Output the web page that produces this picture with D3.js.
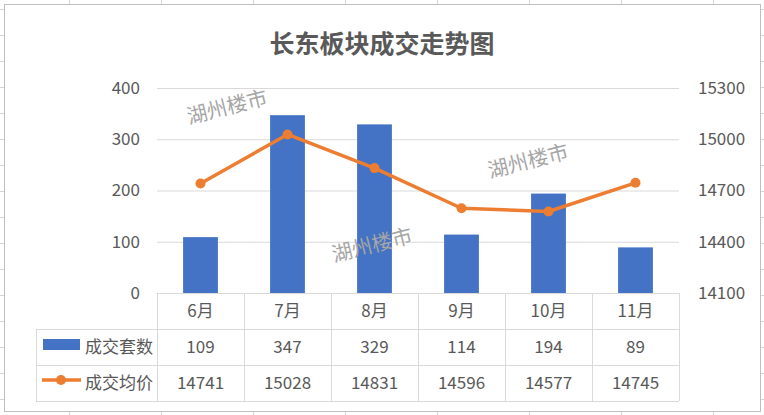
<!DOCTYPE html>
<html>
<head>
<meta charset="utf-8">
<script src="https://cdn.jsdelivr.net/npm/d3@7"></script>
<style>
  body { margin: 0; background: #fff; }
  svg text { font-family: "Noto Sans CJK SC", "Noto Sans", sans-serif; fill: #595959; }
</style>
</head>
<body>
<div id="chart"></div>
<script>
// data
var months = ["6月", "7月", "8月", "9月", "10月", "11月"];
var deals = [109, 347, 329, 114, 194, 89];
var prices = [14741, 15028, 14831, 14596, 14577, 14745];
var leftTicks = [0, 100, 200, 300, 400];
var rightTicks = [14100, 14400, 14700, 15000, 15300];
var seriesNames = ["成交套数", "成交均价"];
var watermark = "湖州楼市";

var svgWidth = 764;
var svgHeight = 415;

var plot = { left: 157, right: 679, top: 88, bottom: 293 };
var rowH = 36;

var svg = d3.select("#chart")
  .append("svg")
  .attr("width", svgWidth)
  .attr("height", svgHeight);

// spreadsheet cells behind the chart
var sheet = svg.append("g").attr("stroke", "#d4d4d4").attr("stroke-width", 1);
d3.range(69, svgWidth, 92).forEach(function(x) {
  sheet.append("line").attr("x1", x + 0.5).attr("x2", x + 0.5).attr("y1", 0).attr("y2", svgHeight);
});
d3.range(9, svgHeight, 26).forEach(function(y) {
  sheet.append("line").attr("x1", 0).attr("x2", svgWidth).attr("y1", y + 0.5).attr("y2", y + 0.5);
});

// chart box
svg.append("rect")
  .attr("x", 4.5).attr("y", 4.5)
  .attr("width", 756).attr("height", 407)
  .attr("fill", "#fff")
  .attr("stroke", "#bfbfbf");

svg.append("text")
  .attr("x", 382).attr("y", 53)
  .attr("text-anchor", "middle")
  .style("font-size", "25px")
  .style("font-weight", "bold")
  .text("长东板块成交走势图");

var x = d3.scaleBand()
  .domain(months)
  .range([plot.left, plot.right])
  .paddingInner(0.6)
  .paddingOuter(0.3);

var xCat = d3.scaleBand()
  .domain(months)
  .range([plot.left, plot.right]);

var yLeft = d3.scaleLinear()
  .domain([0, 400])
  .range([plot.bottom, plot.top]);

var yRight = d3.scaleLinear()
  .domain([14100, 15300])
  .range([plot.bottom, plot.top]);

// gridlines
var grid = svg.append("g")
  .attr("transform", `translate(${plot.left}, 0)`)
  .call(d3.axisLeft(yLeft).tickValues(leftTicks).tickSize(-(plot.right - plot.left)).tickFormat(""));
grid.select(".domain").remove();
grid.selectAll("line").attr("stroke", "#d9d9d9");

// left axis
var leftAxis = svg.append("g")
  .attr("transform", `translate(${plot.left - 17}, 0)`)
  .call(d3.axisLeft(yLeft).tickValues(leftTicks).tickSize(0));
leftAxis.select(".domain").remove();
leftAxis.selectAll("text").attr("fill", "#595959").style("font-size", "17px").attr("x", 0);

// right axis
var rightAxis = svg.append("g")
  .attr("transform", `translate(${plot.right + 19}, 0)`)
  .call(d3.axisRight(yRight).tickValues(rightTicks).tickSize(0).tickFormat(d3.format("d")));
rightAxis.select(".domain").remove();
rightAxis.selectAll("text").attr("fill", "#595959").style("font-size", "17px").attr("x", 0);

// bars
svg.append("g").selectAll("rect")
  .data(deals)
  .enter()
  .append("rect")
  .attr("x", (d, i) => x(months[i]))
  .attr("y", d => yLeft(d))
  .attr("width", x.bandwidth())
  .attr("height", d => yLeft(0) - yLeft(d))
  .attr("fill", "#4472c4");

// watermarks
var marks = [[227, 107], [372, 245], [528, 161]];
svg.append("g").selectAll("text")
  .data(marks)
  .enter()
  .append("text")
  .attr("transform", d => `translate(${d[0]}, ${d[1]}) rotate(-14)`)
  .attr("text-anchor", "middle")
  .attr("dy", "0.35em")
  .style("font-size", "20.5px")
  .style("fill", "#a6a6a6")
  .text(watermark);

// price line
var line = d3.line()
  .x((d, i) => xCat(months[i]) + xCat.bandwidth() / 2)
  .y(d => yRight(d));

svg.append("path")
  .datum(prices)
  .attr("d", line)
  .attr("fill", "none")
  .attr("stroke", "#ed7d31")
  .attr("stroke-width", 3.5)
  .attr("stroke-linejoin", "round");

svg.append("g").selectAll("circle")
  .data(prices)
  .enter()
  .append("circle")
  .attr("cx", (d, i) => xCat(months[i]) + xCat.bandwidth() / 2)
  .attr("cy", d => yRight(d))
  .attr("r", 5)
  .attr("fill", "#ed7d31");

// data table
var table = svg.append("g").attr("stroke", "#d9d9d9").attr("stroke-width", 1);
var legendLeft = 36;
[0, 1, 2, 3].forEach(function(r) {
  var yy = plot.bottom + r * rowH + 0.5;
  table.append("line")
    .attr("x1", r === 0 ? plot.left : legendLeft).attr("x2", plot.right)
    .attr("y1", yy).attr("y2", yy);
});
months.concat(["end"]).forEach(function(m, i) {
  var xx = (i < months.length ? xCat(m) : plot.right) + 0.5;
  table.append("line")
    .attr("x1", xx).attr("x2", xx)
    .attr("y1", plot.bottom).attr("y2", plot.bottom + 3 * rowH);
});
table.append("line")
  .attr("x1", legendLeft + 0.5).attr("x2", legendLeft + 0.5)
  .attr("y1", plot.bottom + rowH).attr("y2", plot.bottom + 3 * rowH);

var cellText = svg.append("g").style("font-size", "17px").attr("text-anchor", "middle");
months.forEach(function(m, i) {
  var cx = xCat(m) + xCat.bandwidth() / 2;
  cellText.append("text").attr("x", cx).attr("y", plot.bottom + rowH * 0.5).attr("dy", "0.35em").text(m);
  cellText.append("text").attr("x", cx).attr("y", plot.bottom + rowH * 1.5).attr("dy", "0.35em").text(deals[i]);
  cellText.append("text").attr("x", cx).attr("y", plot.bottom + rowH * 2.5).attr("dy", "0.35em").text(prices[i]);
});

// legend keys in the table
var row2 = plot.bottom + rowH * 1.5;
var row3 = plot.bottom + rowH * 2.5;
svg.append("rect")
  .attr("x", 43).attr("y", row2 - 8)
  .attr("width", 37).attr("height", 11)
  .attr("fill", "#4472c4");
svg.append("line")
  .attr("x1", 42).attr("x2", 81)
  .attr("y1", row3 - 3).attr("y2", row3 - 3)
  .attr("stroke", "#ed7d31").attr("stroke-width", 3.5);
svg.append("circle")
  .attr("cx", 61).attr("cy", row3 - 3).attr("r", 5)
  .attr("fill", "#ed7d31");

svg.append("g").style("font-size", "17px").attr("text-anchor", "end")
  .selectAll("text")
  .data(seriesNames)
  .enter()
  .append("text")
  .attr("x", 153)
  .attr("y", (d, i) => plot.bottom + rowH * (1.5 + i))
  .attr("dy", "0.35em")
  .text(d => d);
</script>
</body>
</html>
